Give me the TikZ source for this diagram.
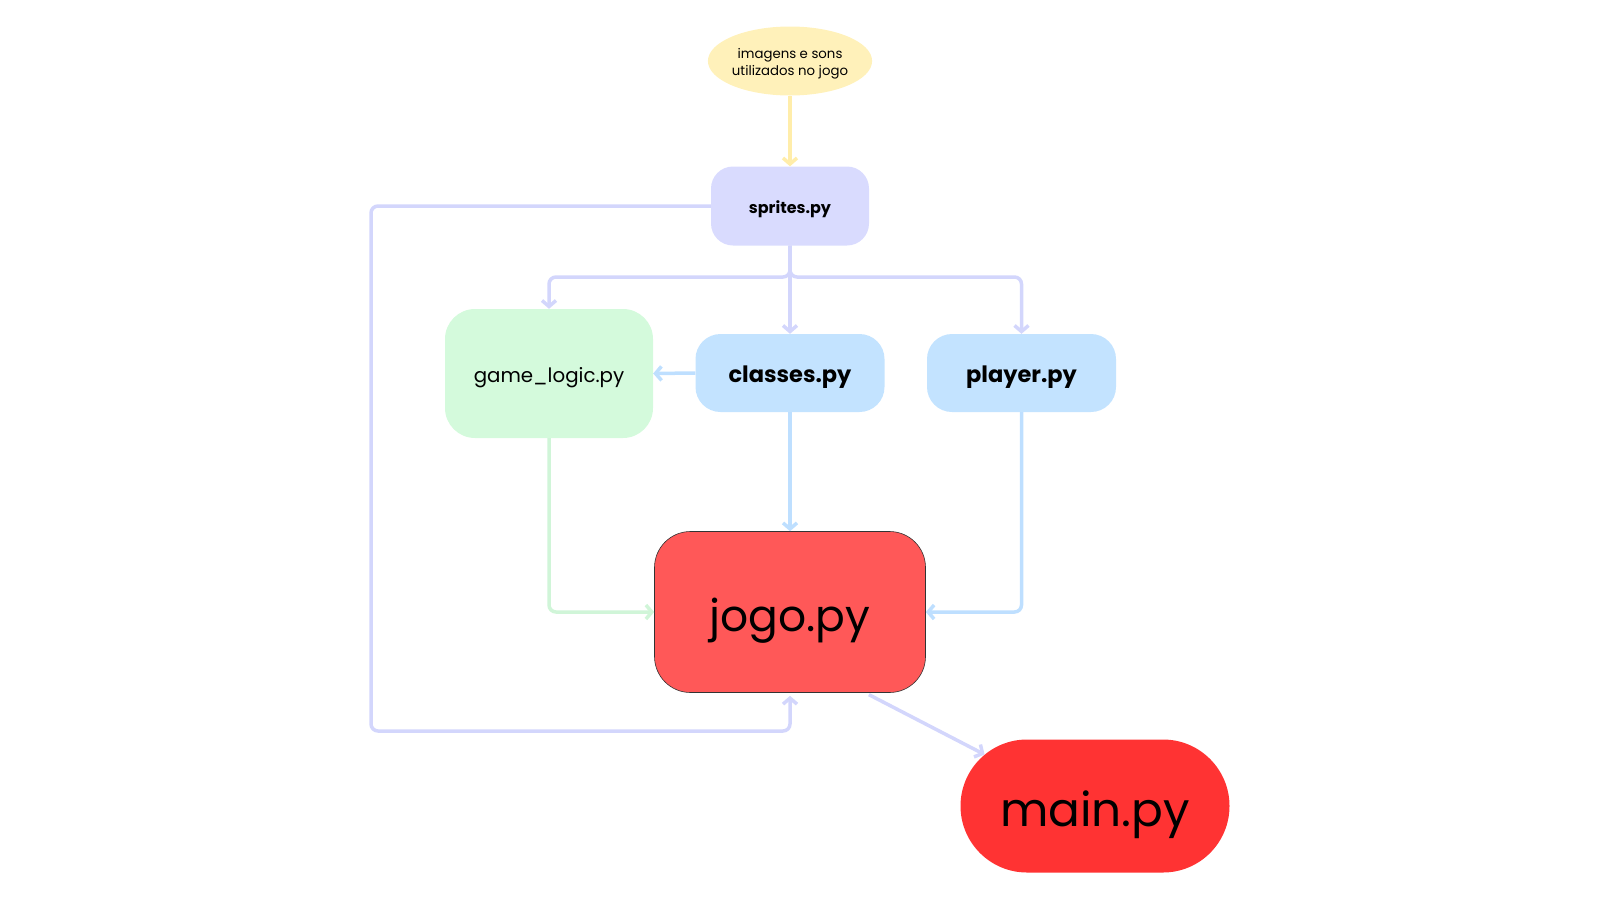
\documentclass[tikz,border=0pt]{standalone}
\usepackage{fontspec}
\setmainfont{Poppins}
\usetikzlibrary{arrows.meta,shapes.geometric,shapes.misc}

\definecolor{assetFill}{HTML}{FFF1BA}
\definecolor{assetLine}{HTML}{FFEDAA}
\definecolor{spriteFill}{HTML}{D9DBFE}
\definecolor{spriteLine}{HTML}{D3D6FC}
\definecolor{moduleFill}{HTML}{C3E3FF}
\definecolor{moduleLine}{HTML}{BEDFFF}
\definecolor{logicFill}{HTML}{D4FADC}
\definecolor{logicLine}{HTML}{D0F5D8}
\definecolor{jogoFill}{HTML}{FF5858}
\definecolor{mainFill}{HTML}{FF3333}

\begin{document}
\begin{tikzpicture}[
    x=1pt, y=-1pt,
    every node/.style={align=center, inner sep=0pt, text=black},
    box/.style={rectangle, rounded corners=#1, text depth=0pt},
    link/.style={line width=3.5pt, rounded corners=7pt,
        -{Straight Barb[length=6pt, width=14pt]}}
]
    \useasboundingbox (0,0) rectangle (1600,900);

    % nodes
    \node[ellipse, fill=assetFill, minimum width=164, minimum height=69,
        font=\fontsize{13.3}{17.5}\selectfont] (assets) at (790,61)
        {\rule{0pt}{16pt}imagens e sons\\utilizados no jogo};
    \node[box=22pt, fill=spriteFill, minimum width=158, minimum height=79, text height=14pt,
        font=\fontsize{16}{19}\selectfont\bfseries] (sprites) at (790,206) {sprites.py};
    \node[box=30pt, fill=logicFill, minimum width=208, minimum height=129, text height=17.4pt,
        font=\fontsize{19.8}{23}\selectfont] (gamelogic) at (549,373.5) {game\_logic.py};
    \node[box=25pt, fill=moduleFill, minimum width=189, minimum height=78, text height=19.8pt,
        font=\fontsize{22.5}{26}\selectfont\bfseries] (classes) at (790,373) {classes.py};
    \node[box=25pt, fill=moduleFill, minimum width=189, minimum height=78, text height=19.8pt,
        font=\fontsize{22.5}{26}\selectfont\bfseries] (player) at (1021.5,373) {player.py};
    \node[box=36pt, fill=jogoFill, draw=black!80, line width=0.6pt,
        minimum width=271, minimum height=161, text height=38.7pt,
        font=\fontsize{44}{50}\selectfont] (jogo) at (790,612) {jogo.py};
    \node[rounded rectangle, fill=mainFill, minimum width=269, minimum height=133,
        text height=41.4pt, text depth=0pt,
        font=\fontsize{47}{54}\selectfont] (mainpy) at (1095,806) {main.py};

    \coordinate (fork) at (790,277);
    \coordinate (loopTop) at (371,206);
    \coordinate (loopBot) at (371,731);

    % connectors
    \draw[link, assetLine] (assets) -- (sprites);
    \draw[link, spriteLine] (sprites.south) -- (fork) -| (gamelogic.north);
    \draw[link, spriteLine] (sprites.south) -- (classes.north);
    \draw[link, spriteLine] (sprites.south) -- (fork) -| (player.north);
    \draw[link, spriteLine, shorten >=3pt] (sprites.west) -- (loopTop) -- (loopBot) -| (jogo.south);
    \draw[link, moduleLine] (classes.west) -- (gamelogic.east);
    \draw[link, moduleLine] (classes.south) -- (jogo.north);
    \draw[link, moduleLine] (player.south) |- (jogo.east);
    \draw[link, logicLine] (gamelogic.south) |- (jogo.west);
    \draw[link, spriteLine, shorten <=4pt] (jogo.-47) -- (mainpy.155);
\end{tikzpicture}
\end{document}
